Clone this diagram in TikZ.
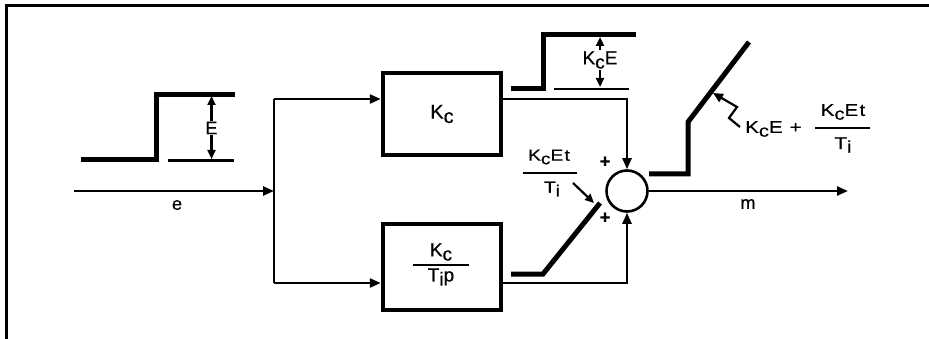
\documentclass[tikz,border=0pt]{standalone}
\usepackage{fontspec}
\setmainfont[FakeBold=0.6]{Liberation Sans}
\newfontfamily\lblfont[LetterSpace=8,FakeStretch=1.2,FakeBold=0.6]{Liberation Sans}
\usetikzlibrary{arrows.meta}
\newcommand\dn[1]{\raisebox{-0.22em}{#1}}
\begin{document}
\begin{tikzpicture}[x=1pt,y=-1pt,
  conn/.style={line width=2.4pt,-{Triangle[length=11pt,width=9pt]}},
  wire/.style={line width=2.4pt},
  sig/.style={line width=5pt},
  base/.style={line width=2.6pt},
  blk/.style={draw,line width=4.5pt,minimum width=118pt,minimum height=82pt,inner sep=0pt},
  lbl/.style={font=\fontsize{18}{20}\selectfont,inner sep=1pt},
  frac/.style={font=\lblfont\fontsize{16}{18}\selectfont,inner sep=1pt},
  dim/.style={line width=2.2pt,-{Triangle[length=9pt,width=8pt]}}]
\useasboundingbox (0,0) rectangle (929,339);
% frame
\draw[line width=2.4pt] (6.5,339) -- (6.5,5.5) -- (929,5.5);
% input step
\draw[sig] (81,160) -- (156,160) -- (156,95) -- (235,95);
\draw[base] (168,160.5) -- (234,160.5);
\node[lbl] (Elab) at (211.5,128) {E};
\coordinate (Etop) at (211.5,96);
\coordinate (Ebot) at (211.5,159);
\draw[dim] (Elab.north) -- (Etop);
\draw[dim] (Elab.south) -- (Ebot);
% input e
\coordinate (ein) at (74,191);
\coordinate (br) at (274,191);
\coordinate (brT) at (274,99);
\coordinate (brB) at (274,283);
\draw[conn] (ein) -- (br);
\node[lbl] (elab) at (177,205) {e};
\draw[wire] (brT) -- (brB);
% blocks
\node[blk] (kc) at (442,114) {\fontsize{20}{22}\selectfont K\dn{c}};
\node[blk,minimum height=86pt] (ki) at (442,267) {};
\node[font=\fontsize{19}{21}\selectfont,inner sep=0pt] (kin) at (441,252) {K\dn{c}};
\draw[line width=2.2pt] (413,265) -- (469,265);
\node[font=\fontsize{19}{21}\selectfont,inner sep=0pt] (kid) at (441,277) {T\dn{i}p};
\draw[conn] (brT) -- (brT -| kc.west);
\draw[conn] (brB) -- (brB -| ki.west);
% summing junction
\node[draw,circle,line width=2.6pt,minimum size=41pt,inner sep=0pt] (sum) at (627,191) {};
\coordinate (kcout) at (kc.east |- 0,99);
\coordinate (kiout) at (ki.east |- 0,283);
\draw[wire] (kcout) -- (627,99);
\draw[conn] (627,98) -- (sum.north);
\draw[wire] (kiout) -- (627,283);
\draw[conn] (627,284) -- (sum.south);
\node[font=\bfseries\fontsize{18}{20}\selectfont,inner sep=0pt] (p1) at (605,162) {+};
\node[font=\bfseries\fontsize{18}{20}\selectfont,inner sep=0pt] (p2) at (605,218) {+};
% output
\coordinate (mout) at (848,191);
\draw[conn] (sum.east) -- (mout);
\node[lbl] (mlab) at (748,204) {m};
% KcE step
\draw[sig] (511,89) -- (543,89) -- (543,35) -- (636,35);
\draw[base] (554,89) -- (629,89);
\node[font=\fontsize{19}{21}\selectfont,inner sep=1pt,fill=white] (kcelab) at (600,60) {K\dn{c}E};
\draw[dim] (kcelab.north) -- (600,37);
\draw[dim] (kcelab.south) -- (600,87);
% ramp from integral
\coordinate (rampend) at (600,203);
\draw[sig] (511,274) -- (543,274) -- (rampend);
\node[frac] (fr1n) at (549,157) {K\dn{c}Et};
\draw[line width=2pt] (523,173) -- (577,173);
\node[frac] (fr1d) at (552,189) {T\dn{i}};
\draw[dim] (573,183) -- (594,203);
% output ramp
\draw[sig] (649,174) -- (688,174) -- (688,122) -- (749,42);
\coordinate (sqtip) at (713,93);
\draw[line width=2.2pt,-{Triangle[length=10pt,width=9pt]}] (740,127) -- (729,118) -- (737,107) -- (sqtip);
\node[font=\lblfont\fontsize{17}{19}\selectfont,inner sep=0pt,anchor=west] (sumlab) at (745,129) {K\dn{c}E +};
\node[frac,font=\lblfont\fontsize{17}{19}\selectfont] (fr2n) at (843,112) {K\dn{c}Et};
\draw[line width=2pt] (815,128) -- (870,128);
\node[frac,font=\lblfont\fontsize{17}{19}\selectfont] (fr2d) at (843,145) {T\dn{i}};
\end{tikzpicture}
\end{document}
